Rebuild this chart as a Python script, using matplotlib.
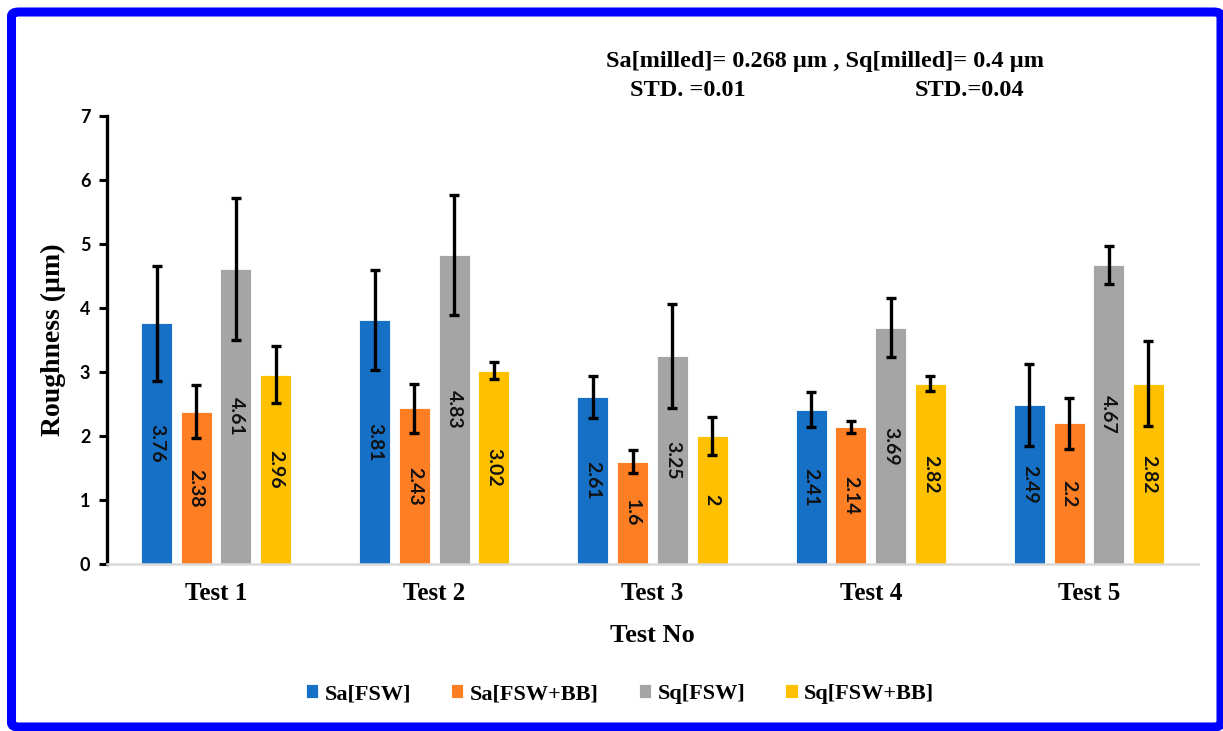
import matplotlib
matplotlib.use("Agg")
import matplotlib.pyplot as plt
import numpy as np
from matplotlib.patches import FancyBboxPatch

categories = ["Test 1", "Test 2", "Test 3", "Test 4", "Test 5"]
series_names = ["Sa[FSW]", "Sa[FSW+BB]", "Sq[FSW]", "Sq[FSW+BB]"]
sa_fsw = [3.76, 3.81, 2.61, 2.41, 2.49]
sa_fsw_bb = [2.38, 2.43, 1.6, 2.14, 2.2]
sq_fsw = [4.61, 4.83, 3.25, 3.69, 4.67]
sq_fsw_bb = [2.96, 3.02, 2.0, 2.82, 2.82]
err_sa_fsw = [0.90, 0.78, 0.33, 0.27, 0.64]
err_sa_fsw_bb = [0.41, 0.38, 0.18, 0.10, 0.40]
err_sq_fsw = [1.11, 0.94, 0.81, 0.46, 0.30]
err_sq_fsw_bb = [0.45, 0.13, 0.29, 0.12, 0.66]
label_texts = [["3.76", "3.81", "2.61", "2.41", "2.49"],
               ["2.38", "2.43", "1.6", "2.14", "2.2"],
               ["4.61", "4.83", "3.25", "3.69", "4.67"],
               ["2.96", "3.02", "2", "2.82", "2.82"]]
yticks = [0, 1, 2, 3, 4, 5, 6, 7]

values = [sa_fsw, sa_fsw_bb, sq_fsw, sq_fsw_bb]
errors = [err_sa_fsw, err_sa_fsw_bb, err_sq_fsw, err_sq_fsw_bb]
colors = ["#1570C6", "#FD7E23", "#A5A5A5", "#FFC000"]

W, H, DPI = 1223, 731, 100
fig = plt.figure(figsize=(W / DPI, H / DPI), dpi=DPI)
fig.patch.set_facecolor("white")

ax = fig.add_axes([107 / W, 1 - 564 / H, (1198 - 107) / W, (564 - 116) / H])

x = np.arange(len(categories))
step = 0.182
width = 0.142
for i, (vals, errs, col) in enumerate(zip(values, errors, colors)):
    pos = x + (i - 1.5) * step
    ax.bar(pos, vals, width=width, color=col, edgecolor="white",
           linewidth=0.6, label=series_names[i], zorder=2)
    ax.errorbar(pos, vals, yerr=errs, fmt="none", ecolor="black",
                elinewidth=2.4, capsize=3.8, capthick=2.4, zorder=3)
    for p, v, t in zip(pos, vals, label_texts[i]):
        ax.text(p, v / 2, t, rotation=-90, ha="center", va="center",
                fontsize=14, family="Lato", fontweight="bold",
                color="#111111", zorder=4)

ax.set_xlim(-0.5, len(categories) - 0.5)
ax.set_ylim(0, 7)
ax.set_yticks(yticks)
ax.set_yticklabels([str(t) for t in yticks], family="Lato", fontweight="bold",
                   fontsize=13)
ax.set_xticks(x)
ax.set_xticklabels(categories, family="Liberation Serif", fontweight="bold",
                   fontsize=18)
ax.tick_params(axis="x", length=0, pad=13)
ax.tick_params(axis="y", length=6, width=2.2, color="black", pad=6, direction="out")

for s in ["top", "right"]:
    ax.spines[s].set_visible(False)
ax.spines["left"].set_linewidth(2.4)
ax.spines["left"].set_color("black")
ax.spines["bottom"].set_linewidth(1.8)
ax.spines["bottom"].set_color("#D9D9D9")

ax.set_xlabel("Test No", family="Liberation Serif", fontweight="bold",
              fontsize=19, labelpad=14)
ax.set_ylabel("Roughness (\u00b5m)", family="Liberation Serif",
              fontweight="bold", fontsize=20, labelpad=10)

leg = fig.legend(loc="center", bbox_to_anchor=(620 / W, 1 - 694 / H), ncol=4,
                 frameon=False, prop={"family": "Liberation Serif",
                                      "weight": "bold", "size": 16},
                 handlelength=0.55, handleheight=0.55, handletextpad=0.3,
                 columnspacing=1.8)

fig.text(825 / W, 1 - 61 / H, "Sa[milled]= 0.268 \u00b5m , Sq[milled]= 0.4 \u00b5m",
         ha="center", va="center", family="Liberation Serif",
         fontweight="bold", fontsize=17.5)
fig.text(688 / W, 1 - 90 / H, "STD. =0.01", ha="center", va="center",
         family="Liberation Serif", fontweight="bold", fontsize=17.5)
fig.text(970 / W, 1 - 90 / H, "STD.=0.04", ha="center", va="center",
         family="Liberation Serif", fontweight="bold", fontsize=17.5)

border = FancyBboxPatch((11.5 / W, 4 / H), (1221 - 11.5) / W, (731 - 16) / H,
                        boxstyle="round,pad=0,rounding_size=0.006",
                        transform=fig.transFigure, facecolor="none",
                        edgecolor="#0000FF", linewidth=6.5, zorder=10)
fig.patches.append(border)

fig.savefig("out.png", dpi=DPI, facecolor="white")
